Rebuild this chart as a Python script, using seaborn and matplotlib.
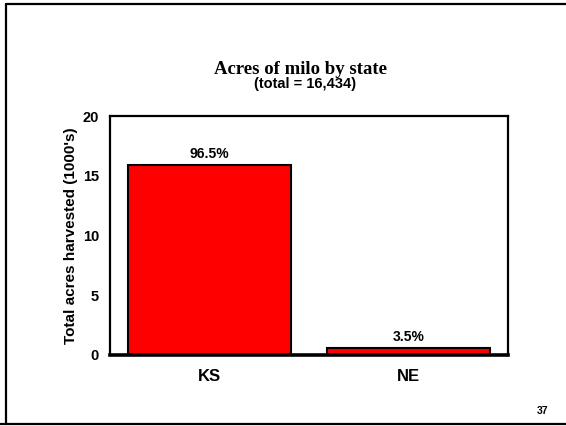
import matplotlib
matplotlib.use("Agg")
import matplotlib.pyplot as plt
import seaborn as sns
import pandas as pd
from matplotlib.lines import Line2D

states = ["KS", "NE"]
acres = [15.86, 0.575]
shares = ["96.5%", "3.5%"]
yticks = [0, 5, 10, 15, 20]

sns.set_theme(style="white")
plt.rcParams['font.family'] = ['Liberation Sans', 'DejaVu Sans']
plt.rcParams.update({"text.color": "black", "axes.labelcolor": "black",
                     "xtick.color": "black", "ytick.color": "black"})

fig = plt.figure(figsize=(5.66, 4.26), dpi=100)
# slide border (left, top, bottom)
W, H = 566, 426
fig.add_artist(Line2D([6/W, 6/W], [1-4/H, 1-424/H], transform=fig.transFigure,
                      color="black", linewidth=1.6))
fig.add_artist(Line2D([6/W, 1.0], [1-4/H, 1-4/H], transform=fig.transFigure,
                      color="black", linewidth=1.6))
fig.add_artist(Line2D([0.0, 1.0], [1-424/H, 1-424/H], transform=fig.transFigure,
                      color="black", linewidth=1.6))

ax = fig.add_axes([110/W, 1-355/H, 398/W, 239/H])
df = pd.DataFrame({"state": states, "acres": acres})
sns.barplot(data=df, x="state", y="acres", color="#ff0000", saturation=1,
            width=0.82, edgecolor="black", linewidth=1.5, ax=ax)
for i, (v, s) in enumerate(zip(acres, shares)):
    ax.text(i, v + 0.35, s, ha="center", va="bottom", fontsize=10,
            fontweight="bold", color="black")

ax.set_xlim(-0.5, 1.5)
ax.set_ylim(0, 20)
ax.set_yticks(yticks)
ax.set_yticklabels([str(t) for t in yticks], fontsize=10.5, fontweight="bold")
ax.set_xticks(range(len(states)))
ax.set_xticklabels(states, fontsize=12, fontweight="bold")
ax.tick_params(axis="y", length=0, pad=8, labelcolor="black")
ax.tick_params(axis="x", length=0, pad=10, labelcolor="black")
ax.set_xlabel("")
ax.set_ylabel("Total acres harvested (1000's)", fontsize=11, fontweight="bold",
              labelpad=3, color="black")
for name, sp in ax.spines.items():
    sp.set_visible(True)
    sp.set_color("black")
    sp.set_linewidth(1.6)
ax.spines["bottom"].set_linewidth(2.6)

fig.text(300/W, 1-69/H, "Acres of milo by state", ha="center", va="center",
         fontsize=13.5, fontweight="bold", family=["Liberation Serif", "DejaVu Serif"],
         color="black")
fig.text(305/W, 1-84/H, "(total = 16,434)", ha="center", va="center",
         fontsize=10.5, fontweight="bold", color="black")
fig.text(543/W, 1-411/H, "37", ha="center", va="center", fontsize=7.5,
         fontweight="bold", color="black")

fig.savefig("out.png", dpi=100)
